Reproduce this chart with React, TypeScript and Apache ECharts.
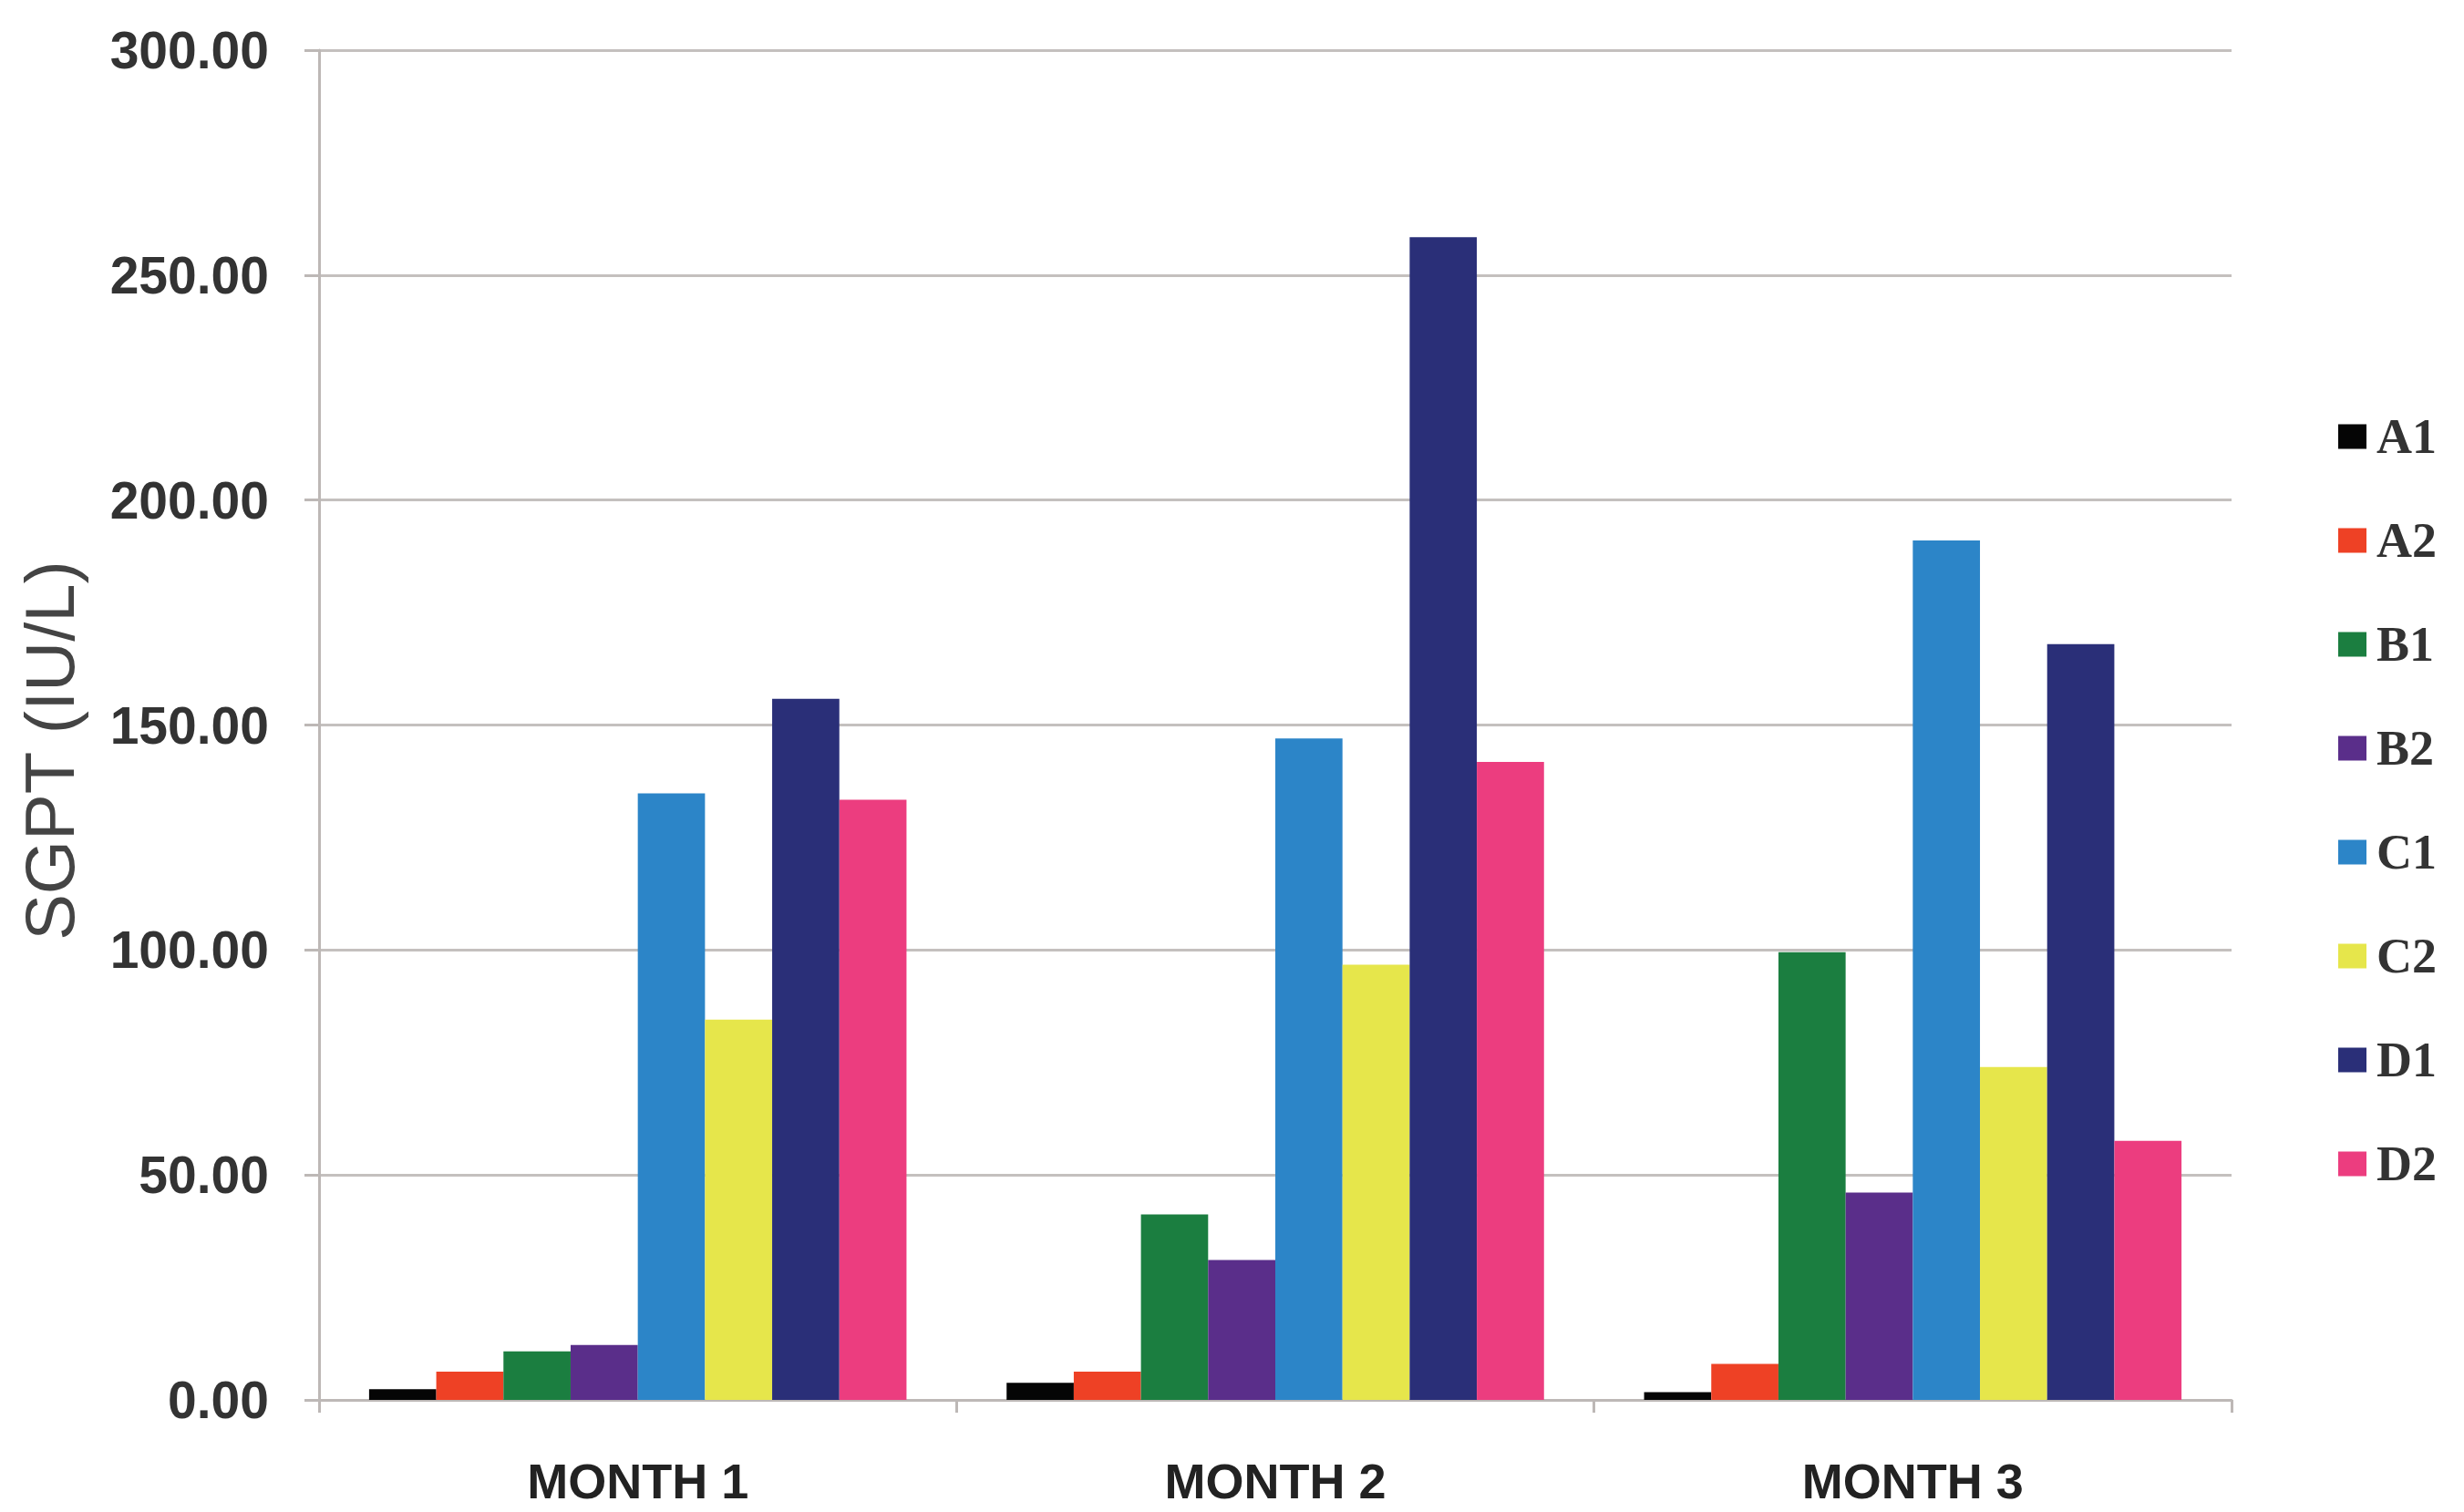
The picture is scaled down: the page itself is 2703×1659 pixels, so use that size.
import React, { useEffect, useRef } from "react";
import * as echarts from "echarts";

const categories = ["MONTH 1", "MONTH 2", "MONTH 3"];
const seriesNames = ["A1", "A2", "B1", "B2", "C1", "C2", "D1", "D2"];
const seriesColors = ["#050505", "#EE4125", "#1B7E40", "#5A2E8A", "#2C85C8", "#E6E64B", "#2A2F78", "#EC3D7F"];
const A1 = [2.4, 3.8, 1.7];
const A2 = [6.3, 6.3, 8.0];
const B1 = [10.8, 41.2, 99.5];
const B2 = [12.2, 31.1, 46.1];
const C1 = [134.8, 147.0, 191.0];
const C2 = [84.5, 96.7, 74.0];
const D1 = [155.8, 258.4, 168.0];
const D2 = [133.4, 141.8, 57.6];
const seriesValues = [A1, A2, B1, B2, C1, C2, D1, D2];
const yMin = 0;
const yMax = 300;
const yInterval = 50;

export default function App() {
  const ref = useRef<HTMLDivElement>(null);
  useEffect(() => {
    document.body.style.margin = "0";
    if (!ref.current) return;
    const chart = echarts.init(ref.current, null, { renderer: "svg" });
    chart.setOption({
      animation: false,
      backgroundColor: "#ffffff",
      grid: { left: 350, right: 255, top: 55, bottom: 123 },
      legend: {
        orient: "vertical",
        left: 2560,
        top: 446,
        itemWidth: 31,
        itemHeight: 27,
        itemGap: 58,
        icon: "rect",
        data: seriesNames,
        textStyle: {
          fontFamily: "Liberation Serif",
          fontWeight: "bold",
          fontSize: 54,
          lineHeight: 56,
          color: "#333333",
          padding: [0, 0, 0, 6],
        },
      },
      xAxis: {
        type: "category",
        data: categories,
        axisLine: { lineStyle: { color: "#BDB8B6", width: 3 } },
        axisTick: { show: true, length: 14, lineStyle: { color: "#BDB8B6", width: 3 } },
        axisLabel: {
          margin: 62,
          fontFamily: "Liberation Sans",
          fontWeight: "bold",
          fontSize: 54,
          color: "#222222",
        },
      },
      yAxis: {
        type: "value",
        min: yMin,
        max: yMax,
        interval: yInterval,
        name: "SGPT (IU/L)",
        nameLocation: "middle",
        nameGap: 258,
        nameRotate: 90,
        nameTextStyle: {
          fontFamily: "Liberation Sans",
          fontSize: 76,
          color: "#444444",
          padding: [0, 0, 0, -56],
        },
        axisLine: { show: true, lineStyle: { color: "#BDB8B6", width: 3 } },
        axisTick: { show: true, length: 16, lineStyle: { color: "#BDB8B6", width: 3 } },
        splitLine: { lineStyle: { color: "#C4C0BE", width: 3 } },
        axisLabel: {
          margin: 55,
          fontFamily: "Liberation Sans",
          fontWeight: "bold",
          fontSize: 57,
          color: "#333333",
          formatter: (v: number) => v.toFixed(2),
        },
      },
      series: seriesNames.map((name, i) => ({
        name,
        type: "bar",
        data: seriesValues[i],
        barGap: "0%",
        barCategoryGap: "15.7%",
        itemStyle: { color: seriesColors[i] },
      })),
    });
    return () => chart.dispose();
  }, []);
  return <div ref={ref} style={{ width: 2703, height: 1659 }} />;
}
